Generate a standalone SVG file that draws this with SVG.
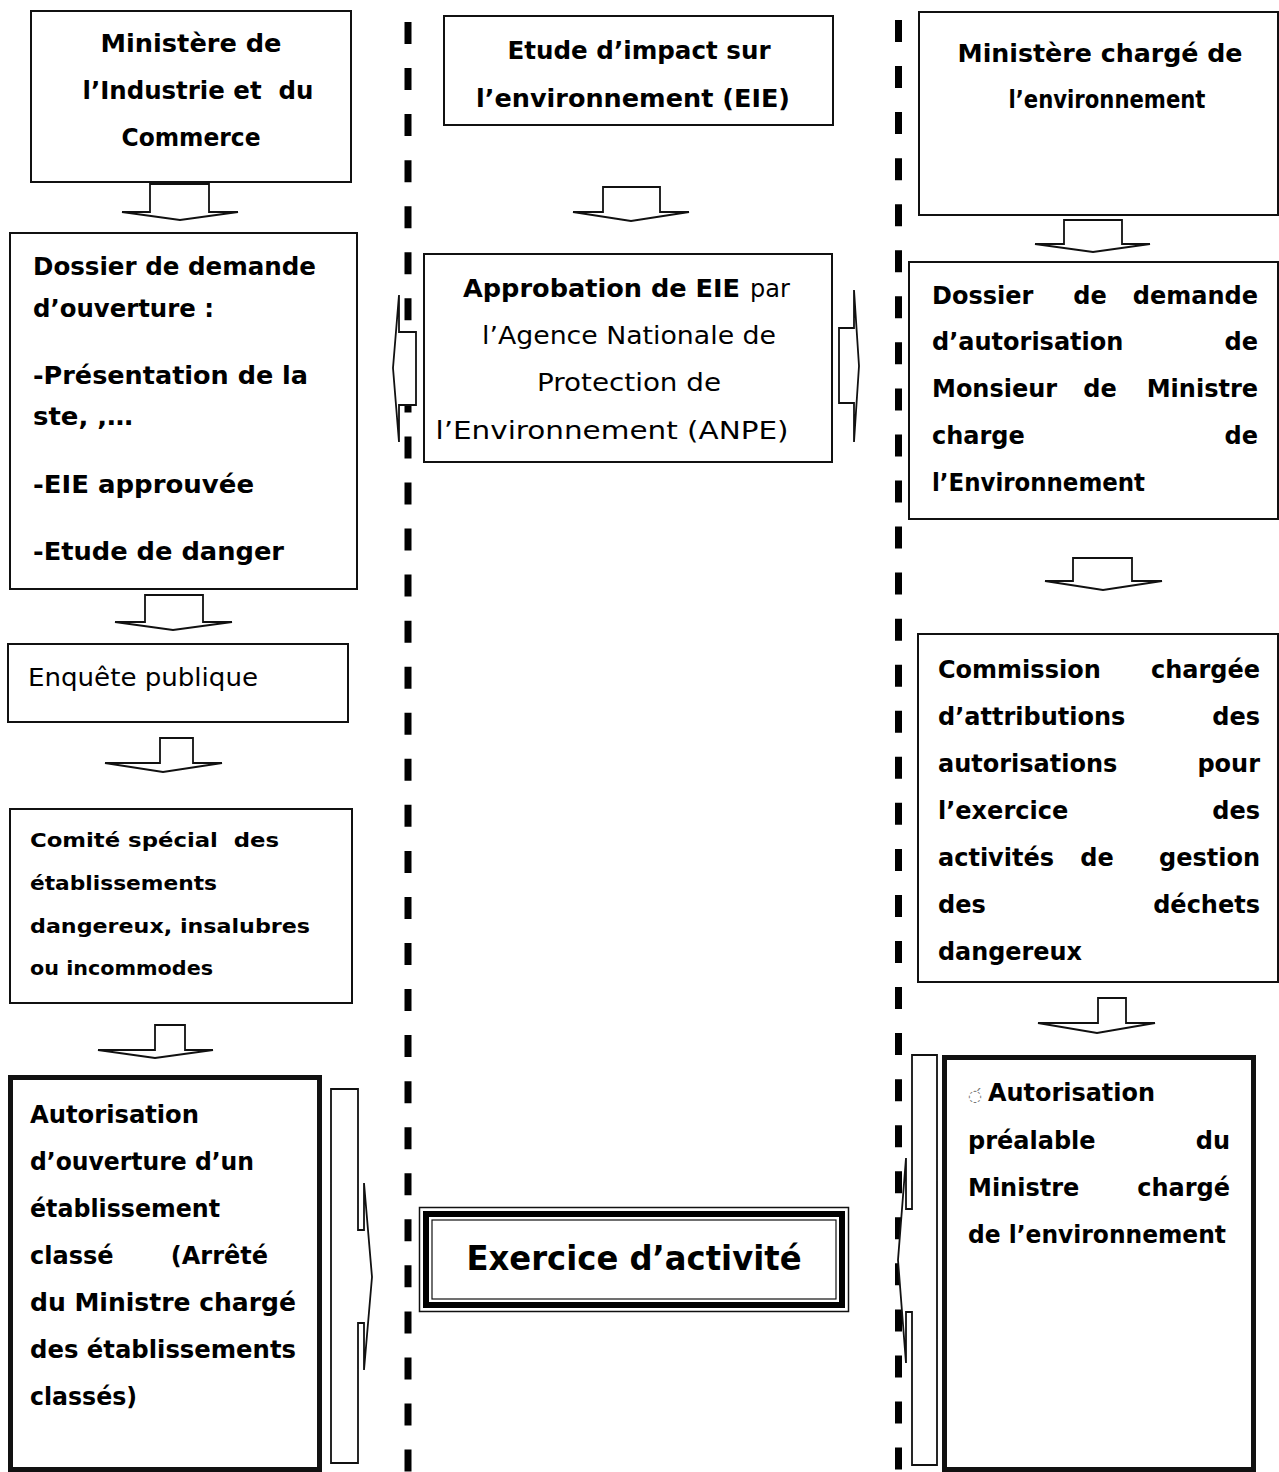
<svg xmlns="http://www.w3.org/2000/svg" width="1279" height="1472" viewBox="0 0 1279 1472">
<style>
.box{fill:#fff;stroke:#111;stroke-width:2}
.thick{fill:#fff;stroke:#111;stroke-width:5}
.arr{fill:#fff;stroke:#111;stroke-width:1.8;stroke-linejoin:miter}
.dash{stroke:#000;stroke-width:7;stroke-dasharray:22 24.05}
text{font-family:"DejaVu Sans","Liberation Sans",sans-serif;fill:#000}
.b{font-weight:bold;font-size:24px}
.s{font-weight:bold;font-size:20px}
.r{font-weight:normal;font-size:24px}
.m{text-anchor:middle}
.e{text-anchor:end}
.pre{white-space:pre}
</style>
<rect width="1279" height="1472" fill="#fff"/>
<g id="separators">
<line class="dash" x1="408" y1="22" x2="408" y2="1472"/>
<line class="dash" x1="898.5" y1="20" x2="898.5" y2="1472"/>
</g>
<g id="connectors">
<polygon class="arr" points="150,184 209,184 209,212 238,212 180,220 122,212 150,212"/>
<polygon class="arr" points="145,595 203,595 203,622 232,622 173,630 115,622 145,622"/>
<polygon class="arr" points="160,738 193,738 193,763 222,763 163,772 105,763 160,763"/>
<polygon class="arr" points="155,1025 185,1025 185,1050 213,1050 155,1058 98,1050 155,1050"/>
<polygon class="arr" points="603,187 660,187 660,212 689,212 631,221 573,212 603,212"/>
<polygon class="arr" points="1064,220 1122,220 1122,244 1150,244 1093,252 1035,244 1064,244"/>
<polygon class="arr" points="1073,558 1132,558 1132,581 1162,581 1103,590 1045,581 1073,581"/>
<polygon class="arr" points="1098,998 1126,998 1126,1023 1155,1023 1097,1033 1038,1023 1098,1023"/>
<polygon class="arr" points="416,332 399,332 399,295 393,368 399,442 399,405 416,405"/>
<polygon class="arr" points="839,328 854,328 854,290 859,366 854,442 854,403 839,403"/>
<polygon class="arr" points="331,1089 358,1089 358,1230 364,1230 364,1183 372,1277 364,1370 364,1323 358,1323 358,1463 331,1463"/>
<polygon class="arr" points="937,1055 912,1055 912,1209 906,1209 906,1158 898,1260 906,1363 906,1312 912,1312 912,1465 937,1465"/>
</g>
<g id="n1">
<rect class="box" x="31" y="11" width="320" height="171"/>
<text class="b m" x="191" y="52" textLength="181" lengthAdjust="spacingAndGlyphs">Ministère de</text>
<text class="b m pre" x="198" y="99" textLength="231" lengthAdjust="spacingAndGlyphs">l’Industrie et  du</text>
<text class="b m" x="191" y="146" textLength="139" lengthAdjust="spacingAndGlyphs">Commerce</text>
</g>
<g id="n2">
<rect class="box" x="10" y="233" width="347" height="356"/>
<text class="b" x="33" y="275" textLength="283" lengthAdjust="spacingAndGlyphs">Dossier de demande</text>
<text class="b" x="33" y="317" textLength="181" lengthAdjust="spacingAndGlyphs">d’ouverture :</text>
<text class="b" x="33" y="384" textLength="275" lengthAdjust="spacingAndGlyphs">-Présentation de la</text>
<text class="b" x="33" y="425" textLength="100" lengthAdjust="spacingAndGlyphs">ste, ,…</text>
<text class="b" x="33" y="493" textLength="221" lengthAdjust="spacingAndGlyphs">-EIE approuvée</text>
<text class="b" x="33" y="560" textLength="251" lengthAdjust="spacingAndGlyphs">-Etude de danger</text>
</g>
<g id="n3">
<rect class="box" x="8" y="644" width="340" height="78"/>
<text class="r" x="28" y="686" textLength="230" lengthAdjust="spacingAndGlyphs">Enquête publique</text>
</g>
<g id="n4">
<rect class="box" x="10" y="809" width="342" height="194"/>
<text class="s pre" x="30" y="847" textLength="249" lengthAdjust="spacingAndGlyphs">Comité spécial  des</text>
<text class="s" x="30" y="890" textLength="187" lengthAdjust="spacingAndGlyphs">établissements</text>
<text class="s" x="30" y="933" textLength="280" lengthAdjust="spacingAndGlyphs">dangereux, insalubres</text>
<text class="s" x="30" y="975" textLength="183" lengthAdjust="spacingAndGlyphs">ou incommodes</text>
</g>
<g id="n5">
<rect class="thick" x="10.5" y="1077.5" width="309" height="392"/>
<text class="b" x="30" y="1123" textLength="169" lengthAdjust="spacingAndGlyphs">Autorisation</text>
<text class="b" x="30" y="1170" textLength="224" lengthAdjust="spacingAndGlyphs">d’ouverture d’un</text>
<text class="b" x="30" y="1217" textLength="190" lengthAdjust="spacingAndGlyphs">établissement</text>
<text class="b" x="30" y="1264">classé</text>
<text class="b e" x="268" y="1264">(Arrêté</text>
<text class="b" x="30" y="1311" textLength="266" lengthAdjust="spacingAndGlyphs">du Ministre chargé</text>
<text class="b" x="30" y="1358" textLength="266" lengthAdjust="spacingAndGlyphs">des établissements</text>
<text class="b" x="30" y="1405" textLength="107" lengthAdjust="spacingAndGlyphs">classés)</text>
</g>
<g id="n6">
<rect class="box" x="444" y="16" width="389" height="109"/>
<text class="b m" x="639" y="59" textLength="263" lengthAdjust="spacingAndGlyphs">Etude d’impact sur</text>
<text class="b m" x="633" y="107" textLength="314" lengthAdjust="spacingAndGlyphs">l’environnement (EIE)</text>
</g>
<g id="n7">
<rect class="box" x="424" y="254" width="408" height="208"/>
<text x="463" y="297"><tspan class="b" textLength="277" lengthAdjust="spacingAndGlyphs">Approbation de EIE</tspan><tspan class="r" x="750">par</tspan></text>
<text class="r m" x="629" y="344" textLength="294" lengthAdjust="spacingAndGlyphs">l’Agence Nationale de</text>
<text class="r m" x="629" y="391" textLength="184" lengthAdjust="spacingAndGlyphs">Protection de</text>
<text class="r m" x="612" y="439" textLength="353" lengthAdjust="spacingAndGlyphs">l’Environnement (ANPE)</text>
</g>
<g id="n8">
<rect x="419.5" y="1207.5" width="429" height="104" fill="#fff" stroke="#111" stroke-width="1.5"/>
<rect x="426" y="1214" width="416" height="91" fill="none" stroke="#000" stroke-width="6"/>
<rect x="432" y="1220" width="404" height="79" fill="none" stroke="#111" stroke-width="1.2"/>
<text class="b m" x="634" y="1270" style="font-size:34px" textLength="335" lengthAdjust="spacingAndGlyphs">Exercice d’activité</text>
</g>
<g id="n9">
<rect class="box" x="919" y="12" width="359" height="203"/>
<text class="b m" x="1100" y="62" textLength="285" lengthAdjust="spacingAndGlyphs">Ministère chargé de</text>
<text class="b m" x="1107" y="108" textLength="197" lengthAdjust="spacingAndGlyphs">l’environnement</text>
</g>
<g id="n10">
<rect class="box" x="909" y="262" width="369" height="257"/>
<text class="b" x="932" y="304">Dossier</text>
<text class="b m" x="1090" y="304">de</text>
<text class="b e" x="1258" y="304">demande</text>
<text class="b" x="932" y="350">d’autorisation</text>
<text class="b e" x="1258" y="350">de</text>
<text class="b" x="932" y="397">Monsieur</text>
<text class="b m" x="1100" y="397">de</text>
<text class="b e" x="1258" y="397">Ministre</text>
<text class="b" x="932" y="444">charge</text>
<text class="b e" x="1258" y="444">de</text>
<text class="b" x="932" y="491" textLength="213" lengthAdjust="spacingAndGlyphs">l’Environnement</text>
</g>
<g id="n11">
<rect class="box" x="918" y="634" width="360" height="348"/>
<text class="b" x="938" y="678">Commission</text>
<text class="b e" x="1260" y="678">chargée</text>
<text class="b" x="938" y="725">d’attributions</text>
<text class="b e" x="1260" y="725">des</text>
<text class="b" x="938" y="772">autorisations</text>
<text class="b e" x="1260" y="772">pour</text>
<text class="b" x="938" y="819">l’exercice</text>
<text class="b e" x="1260" y="819">des</text>
<text class="b" x="938" y="866">activités</text>
<text class="b m" x="1097" y="866">de</text>
<text class="b e" x="1260" y="866">gestion</text>
<text class="b" x="938" y="913">des</text>
<text class="b e" x="1260" y="913">déchets</text>
<text class="b" x="938" y="960" textLength="144" lengthAdjust="spacingAndGlyphs">dangereux</text>
</g>
<g id="n12">
<rect class="thick" x="944.5" y="1057.5" width="309" height="412"/>
<text x="968" y="1101"><tspan style="font-size:16px;fill:#777">◌́</tspan><tspan class="b" x="988" textLength="167" lengthAdjust="spacingAndGlyphs">Autorisation</tspan></text>
<text class="b" x="968" y="1149">préalable</text>
<text class="b e" x="1230" y="1149">du</text>
<text class="b" x="968" y="1196">Ministre</text>
<text class="b e" x="1230" y="1196">chargé</text>
<text class="b" x="968" y="1243" textLength="258" lengthAdjust="spacingAndGlyphs">de l’environnement</text>
</g>
</svg>
